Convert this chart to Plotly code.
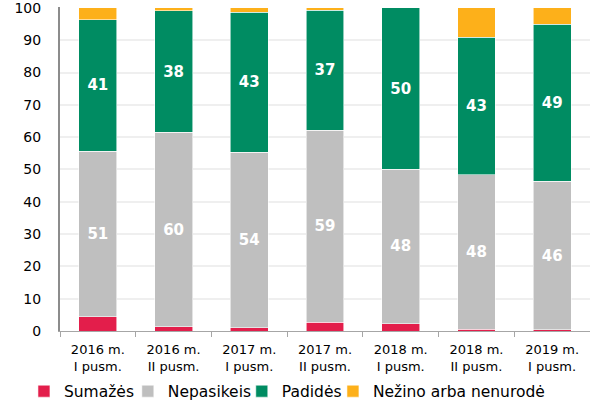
import plotly.graph_objects as go

categories = ["2016 m.<br>I pusm.", "2016 m.<br>II pusm.", "2017 m.<br>I pusm.",
              "2017 m.<br>II pusm.", "2018 m.<br>I pusm.", "2018 m.<br>II pusm.",
              "2019 m.<br>I pusm."]
sumazes = [4.4, 1.3, 1.0, 2.7, 2.3, 0.6, 0.4]
nepasikeis = [51.3, 60.2, 54.4, 59.4, 47.8, 47.7, 45.9]
padides = [40.6, 37.6, 43.3, 37.2, 49.9, 42.6, 48.6]
nezino = [3.7, 0.9, 1.3, 0.7, 0.0, 9.1, 5.1]
y_ticks = [0, 10, 20, 30, 40, 50, 60, 70, 80, 90, 100]

series = [
    ("Sumažės", sumazes, "#E31E4B", False, "legend", -0.068),
    ("Nepasikeis", nepasikeis, "#BFBFBF", True, "legend2", 0.128),
    ("Padidės", padides, "#008C62", True, "legend3", 0.343),
    ("Nežino arba nenurodė", nezino, "#FDB01A", False, "legend4", 0.515),
]

fig = go.Figure()
legends = {}
for name, vals, color, lab, lg, lx in series:
    fig.add_trace(go.Bar(
        name=name, x=categories, y=vals, legend=lg,
        marker=dict(color=color, line=dict(color="rgba(255,255,255,0.7)", width=0.8)),
        texttemplate="%{y:.0f}" if lab else None,
        textposition="inside" if lab else "none",
        insidetextanchor="middle",
        textangle=0,
        textfont=dict(family="DejaVu Sans", size=15, color="white", weight="bold"),
        hoverinfo="skip",
    ))
    legends[lg] = dict(orientation="h", x=lx, xanchor="left", y=-0.187, yanchor="middle",
                       font=dict(size=15.5), itemwidth=30, bgcolor="rgba(0,0,0,0)")

fig.update_layout(
    barmode="stack",
    bargap=0.5,
    width=590, height=403,
    margin=dict(l=60, r=0, t=7, b=72, autoexpand=False),
    plot_bgcolor="white", paper_bgcolor="white",
    font=dict(family="DejaVu Sans", color="#000000"),
    uniformtext=dict(minsize=15, mode="show"),
    showlegend=True,
    **legends,
)
fig.update_xaxes(
    range=[-0.5, 6.5], showline=True, linecolor="#A6A6A6", linewidth=1,
    ticks="outside", tickson="boundaries", ticklen=5, tickcolor="#A6A6A6",
    tickfont=dict(size=13), showgrid=False, automargin=False, ticklabelstandoff=6,
)
fig.update_yaxes(
    range=[0, 100.3], tickvals=y_ticks, showline=True, linecolor="#8C8C8C", linewidth=2,
    gridcolor="#EFEFEF", gridwidth=1.5, tickfont=dict(size=14), ticks="",
    zeroline=False, automargin=False, ticklabelstandoff=14, ticklabeloverflow="allow",
)
fig.write_html("out.html", post_script="document.body.style.margin='0px';",
               config={"displayModeBar": False})
